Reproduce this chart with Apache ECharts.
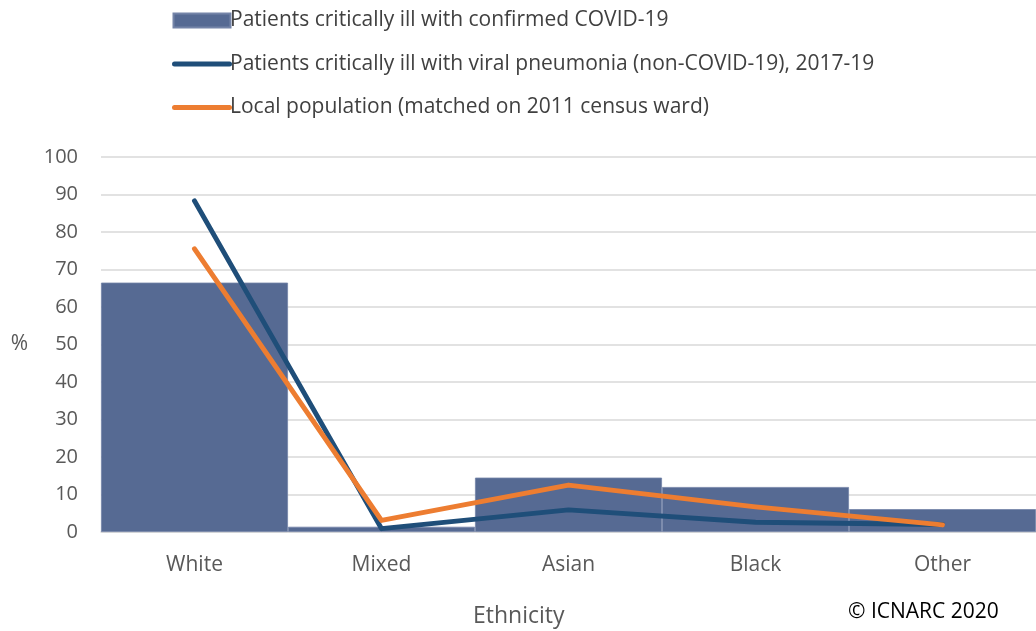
<!DOCTYPE html>
<html><head><meta charset="utf-8">
<script src="https://cdn.jsdelivr.net/npm/echarts@6/dist/echarts.min.js"></script>
<style>html,body{margin:0;padding:0;background:#fff}#c{width:1036px;height:631px}</style>
</head><body><div id="c"></div>
<script>
var categories = ['White', 'Mixed', 'Asian', 'Black', 'Other'];
var covidValues = [66.5, 1.4, 14.5, 12.0, 6.1];
var pneumoniaValues = [88.3, 0.9, 5.9, 2.6, 2.0];
var populationValues = [75.5, 3.1, 12.5, 6.7, 1.9];
var yTicks = [0, 10, 20, 30, 40, 50, 60, 70, 80, 90, 100];
var seriesNames = ['Patients critically ill with confirmed COVID-19',
  'Patients critically ill with viral pneumonia (non-COVID-19), 2017-19',
  'Local population (matched on 2011 census ward)'];

var FONT = 'Open Sans';
var chart = echarts.init(document.getElementById('c'), null, {renderer: 'canvas'});
chart.setOption({
  animation: false,
  textStyle: {fontFamily: FONT},
  grid: {left: 101, top: 157, width: 941, height: 375, containLabel: false},
  legend: {
    orient: 'vertical', left: 167, top: 5, itemWidth: 60, itemHeight: 14, itemGap: 22.5,
    textStyle: {fontFamily: FONT, fontSize: 21, color: '#404040', padding: [0, 0, 0, -7]},
    data: [
      {name: seriesNames[0], icon: 'path://M3,0 L60,0 L60,14 L3,14 Z'},
      {name: seriesNames[1], icon: 'path://M2.5,4.5 L57.5,4.5 A2.5,2.5 0 0 1 57.5,9.5 L2.5,9.5 A2.5,2.5 0 0 1 2.5,4.5 Z'},
      {name: seriesNames[2], icon: 'path://M2.5,4.5 L57.5,4.5 A2.5,2.5 0 0 1 57.5,9.5 L2.5,9.5 A2.5,2.5 0 0 1 2.5,4.5 Z'}
    ]
  },
  xAxis: {
    type: 'category', data: categories,
    axisLine: {show: true, lineStyle: {color: '#d9d9d9', width: 1.5}},
    axisTick: {show: false},
    axisLabel: {fontSize: 21, color: '#595959', margin: 23, fontFamily: FONT}
  },
  yAxis: {
    type: 'value', min: 0, max: 100, interval: 10,
    name: '%', nameLocation: 'middle', nameRotate: 0, nameGap: 73,
    nameTextStyle: {fontSize: 21, color: '#595959', fontFamily: FONT},
    axisLine: {show: false}, axisTick: {show: false},
    axisLabel: {fontSize: 20, color: '#595959', margin: 23, fontFamily: FONT,
      formatter: function (v) { return yTicks.indexOf(v) >= 0 ? String(v) : ''; }},
    splitLine: {lineStyle: {color: '#d9d9d9', width: 1.5}}
  },
  series: [
    {name: seriesNames[0], type: 'bar', data: covidValues, barWidth: '100%', barGap: '0%', barCategoryGap: '0%',
      itemStyle: {color: '#566a93', borderColor: '#7484a8', borderWidth: 0.8}, z: 2},
    {name: seriesNames[1], type: 'line', data: pneumoniaValues, symbol: 'none', showSymbol: false,
      lineStyle: {color: '#1f4e79', width: 5, cap: 'round', join: 'round'}, itemStyle: {color: '#1f4e79'}, z: 3},
    {name: seriesNames[2], type: 'line', data: populationValues, symbol: 'none', showSymbol: false,
      lineStyle: {color: '#ed7d31', width: 5, cap: 'round', join: 'round'}, itemStyle: {color: '#ed7d31'}, z: 4}
  ],
  graphic: [
    {type: 'text', left: 473, top: 605, style: {text: 'Ethnicity', font: '23px "' + FONT + '"', fill: '#595959'}},
    {type: 'text', left: 848, top: 602, style: {text: '\u00a9 ICNARC 2020', font: '21px "' + FONT + '"', fill: '#000'}}
  ]
});
</script></body></html>
